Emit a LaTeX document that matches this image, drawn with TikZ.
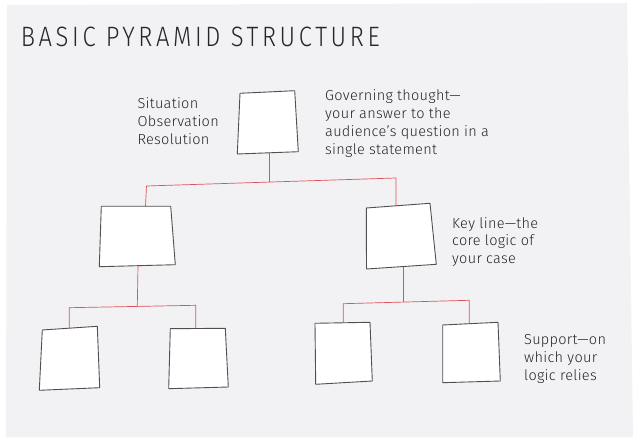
\documentclass[tikz,border=0pt]{standalone}
\usepackage{fontspec}
\setmainfont{Fira Sans Light}[LetterSpace=2]
\newfontfamily\titlefont{Fira Sans Light}[FakeStretch=0.85, LetterSpace=13]
\usepackage{tikz}
\usetikzlibrary{positioning}
\definecolor{sheetgrey}{HTML}{F2F2F4}
\definecolor{linkred}{HTML}{E0525A}
\definecolor{cardline}{HTML}{505050}
\tikzset{card/.style = {draw = cardline, fill = white, line width = 0.9pt, line join = round}}
\tikzset{link/.style = {draw = linkred, line width = 0.7pt}}
\tikzset{note/.style = {anchor = north west, inner sep = 0, align = left, text = black!85,
                        font = \fontsize{14.5}{17.8}\selectfont}}

\begin{document}
\begin{tikzpicture}[x = 1pt, y = -1pt]
      \useasboundingbox (0, 0) rectangle (633, 441);
      \fill [sheetgrey] (7, 5) -- (627, 3) -- (633, 437) -- (6, 437) -- cycle;

      \node (title) at (20.7, 46.7) [anchor = base west, inner sep = 0, text = black!85,
            font = \titlefont\fontsize{28}{30}\selectfont] {BASIC PYRAMID STRUCTURE};

      \coordinate (gt-b) at (269.3, 153);
      \coordinate (j1) at (269.3, 182.1);
      \coordinate (b1l) at (146.5, 186);
      \coordinate (b1r) at (396, 178);
      \coordinate (k1-t) at (145.5, 206.3);
      \coordinate (k2-t) at (396, 205.8);
      \coordinate (k1-b) at (138, 265.7);
      \coordinate (k2-b) at (403, 266.5);
      \coordinate (j2) at (137.3, 306.2);
      \coordinate (b2l) at (69.3, 307.7);
      \coordinate (b2r) at (195.7, 305.3);
      \coordinate (s1-t) at (69.3, 328.2);
      \coordinate (s2-t) at (195.7, 328.5);
      \coordinate (j3) at (403, 302.1);
      \coordinate (b3l) at (343.3, 303.7);
      \coordinate (b3r) at (469.3, 300.3);
      \coordinate (s3-t) at (343.3, 322.8);
      \coordinate (s4-t) at (469.3, 323.7);

      \draw [link] (gt-b) -- (j1);
      \draw [link] (k1-t) -- (b1l) -- (b1r) -- (k2-t);
      \draw [link] (k1-b) -- (j2);
      \draw [link] (s1-t) -- (b2l) -- (b2r) -- (s2-t);
      \draw [link] (k2-b) -- (j3);
      \draw [link] (s3-t) -- (b3l) -- (b3r) -- (s4-t);

      \draw [card] (240, 93.3) -- (294.7, 90.7) -- (298.3, 151.7) -- (237.3, 154) -- cycle;
      \draw [card] (101.3, 206.3) -- (170.7, 206.3) -- (175.3, 264.7) -- (99.3, 266.7) -- cycle;
      \draw [card] (366.3, 208) -- (430, 203.3) -- (436.3, 264.3) -- (366.5, 269) -- cycle;
      \draw [card] (42.3, 330) -- (97.3, 326.3) -- (99.7, 387.7) -- (39.3, 390.3) -- cycle;
      \draw [card] (170.3, 328.7) -- (225.3, 328.3) -- (228.3, 387) -- (168.7, 388.7) -- cycle;
      \draw [card] (315, 323.3) -- (370, 322.3) -- (372.3, 381) -- (315.7, 384.3) -- cycle;
      \draw [card] (442.7, 325) -- (498, 322.3) -- (500.3, 381) -- (442.7, 382.7) -- cycle;

      \node (sor) at (137.3, 97.5) [note] {Situation\\Observation\\Resolution};
      \node (governing) at (325, 89.5) [note] {Governing thought---\\your answer to the\\audience's question in a\\single statement};
      \node (keyline) at (452, 217) [note] {Key line---the\\core logic of\\your case};
      \node (support) at (524, 334.5) [note] {Support---on\\which your\\logic relies};
\end{tikzpicture}
\end{document}
